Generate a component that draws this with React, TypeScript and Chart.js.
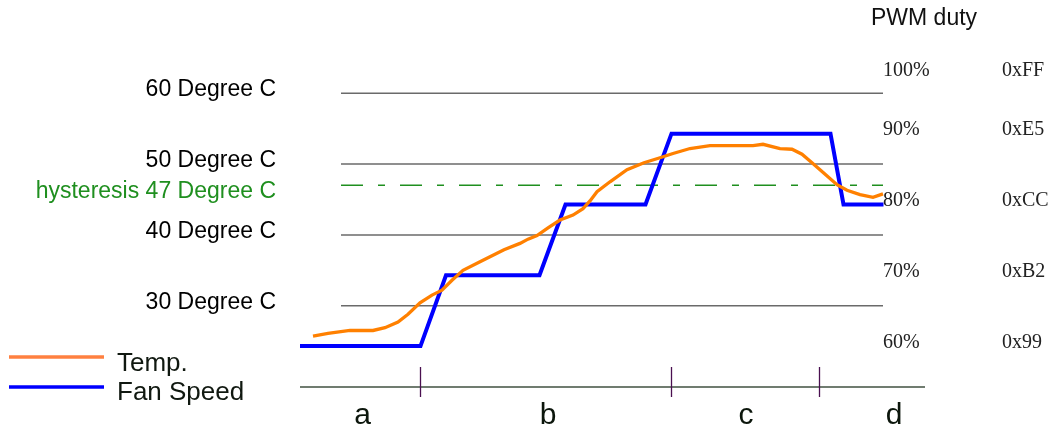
import React, { useEffect, useRef } from 'react';
import { Chart, registerables } from 'chart.js';

Chart.register(...registerables);

// ---- Data ----
const tempTime = [2.6, 5.6, 10, 14.6, 17, 19.6, 21.6, 24, 26.4, 28.4, 30.4, 32.6, 36, 38, 40.8, 44, 45.6, 47.4, 49.6, 52, 54.6, 56.6, 58, 59.4, 62, 65.4, 68.8, 72, 74.6, 78, 82, 88, 90.6, 92.6, 96, 98.4, 100.4, 102.4, 104.8, 107.4, 109.4, 112, 114.6, 116.6];
const tempValues = [25.7, 26.1, 26.5, 26.5, 26.9, 27.7, 28.8, 30.4, 31.5, 32.2, 33.6, 35.0, 36.2, 36.9, 37.9, 38.8, 39.4, 39.9, 41.0, 42.1, 42.8, 43.7, 44.8, 46.1, 47.5, 49.2, 50.2, 50.9, 51.5, 52.2, 52.6, 52.6, 52.6, 52.8, 52.2, 52.1, 51.4, 50.2, 48.7, 47.1, 46.3, 45.7, 45.3, 45.8];

const fanTime = [0, 24.1, 29.2, 47.9, 53.1, 69.1, 74.3, 106.1, 108.7, 116.7];
const fanDuty = [60, 60, 70, 70, 80, 80, 90, 90, 80, 80];

const tempGridLevels = [60, 50, 40, 30];
const tempGridLabels = ['60 Degree C', '50 Degree C', '40 Degree C', '30 Degree C'];
const hysteresisTemp = 47;
const hysteresisLabel = 'hysteresis 47 Degree C';
const gridSpan = [8.2, 116.6];

const pwmTitle = 'PWM duty';
const pwmLabelLevels = [98.3, 90, 80, 70, 60];
const pwmPercentLabels = ['100%', '90%', '80%', '70%', '60%'];
const pwmHexLabels = ['0xFF', '0xE5', '0xCC', '0xB2', '0x99'];

const phaseBoundaries = [24, 74.2, 103.8];
const phaseNames = ['a', 'b', 'c', 'd'];
const phaseLabelAt = [12.5, 49.6, 89.2, 118.8];

const legendNames = ['Temp.', 'Fan Speed'];

// ---- Styles ----
const ORANGE = '#ff8000';
const BLUE = '#0000ff';
const GRID = '#6a6a6a';
const GREEN = '#1f8f1f';
const SANS = '"Liberation Sans", Arial, sans-serif';
const SERIF = '"Liberation Serif", "Times New Roman", serif';

const overlayPlugin = {
  id: 'overlay',
  afterDraw(chart: any) {
    const ctx = chart.ctx as CanvasRenderingContext2D;
    const x = chart.scales.x;
    const y = chart.scales.y;
    const y2 = chart.scales.y2;
    ctx.save();

    // left temperature labels
    ctx.font = `23px ${SANS}`;
    ctx.textAlign = 'right';
    ctx.textBaseline = 'alphabetic';
    ctx.fillStyle = '#000';
    tempGridLevels.forEach((lv, i) => {
      ctx.fillText(tempGridLabels[i], 276, y.getPixelForValue(lv) + 3);
    });
    ctx.fillStyle = GREEN;
    ctx.fillText(hysteresisLabel, 276, y.getPixelForValue(hysteresisTemp) + 12.5);

    // right PWM labels
    ctx.textAlign = 'left';
    ctx.fillStyle = '#111';
    ctx.font = `23px ${SANS}`;
    ctx.fillText(pwmTitle, 871, 25);
    ctx.font = `20px ${SERIF}`;
    ctx.fillStyle = '#222';
    pwmLabelLevels.forEach((lv, i) => {
      const py = y2.getPixelForValue(lv) + 1.5;
      ctx.fillText(pwmPercentLabels[i], 883, py);
      ctx.fillText(pwmHexLabels[i], 1002, py);
    });

    // bottom phase axis
    const axisY = 387;
    ctx.strokeStyle = '#707c70';
    ctx.lineWidth = 2;
    ctx.beginPath();
    ctx.moveTo(x.getPixelForValue(x.min), axisY);
    ctx.lineTo(x.getPixelForValue(x.max), axisY);
    ctx.stroke();
    ctx.strokeStyle = '#4a1050';
    ctx.lineWidth = 1.3;
    phaseBoundaries.forEach((b) => {
      const px = Math.round(x.getPixelForValue(b)) + 0.5;
      ctx.beginPath();
      ctx.moveTo(px, axisY - 20);
      ctx.lineTo(px, axisY + 10);
      ctx.stroke();
    });
    ctx.font = `30px ${SANS}`;
    ctx.textAlign = 'center';
    ctx.fillStyle = '#0c160c';
    phaseNames.forEach((n, i) => {
      ctx.fillText(n, x.getPixelForValue(phaseLabelAt[i]), 424);
    });

    // legend
    const legendColors = ['#ff8040', BLUE];
    const legendY = [357, 387];
    legendNames.forEach((n, i) => {
      ctx.strokeStyle = legendColors[i];
      ctx.lineWidth = 3.5;
      ctx.beginPath();
      ctx.moveTo(9, legendY[i]);
      ctx.lineTo(104, legendY[i]);
      ctx.stroke();
    });
    ctx.font = `26px ${SANS}`;
    ctx.textAlign = 'left';
    ctx.fillStyle = '#101810';
    ctx.fillText(legendNames[0], 117, 371);
    ctx.fillText(legendNames[1], 117, 400);

    ctx.restore();
  },
};

export default function App() {
  const ref = useRef<HTMLCanvasElement | null>(null);

  useEffect(() => {
    document.body.style.margin = '0';
    const canvas = ref.current;
    if (!canvas) return;

    const gridDatasets = tempGridLevels.map((lv) => ({
      label: 'grid',
      data: gridSpan.map((t) => ({ x: t, y: lv })),
      borderColor: GRID,
      borderWidth: 1.5,
      pointRadius: 0,
      yAxisID: 'y',
      order: 5,
    }));

    const chart = new Chart(canvas, {
      type: 'line',
      data: {
        datasets: [
          ...gridDatasets,
          {
            label: 'hysteresis',
            data: gridSpan.map((t) => ({ x: t, y: hysteresisTemp })),
            borderColor: GREEN,
            borderWidth: 1.5,
            borderDash: [22, 15, 7, 15],
            pointRadius: 0,
            yAxisID: 'y',
            order: 4,
          },
          {
            label: 'Fan Speed',
            data: fanTime.map((t, i) => ({ x: t, y: fanDuty[i] })),
            borderColor: BLUE,
            borderWidth: 4,
            borderJoinStyle: 'miter',
            pointRadius: 0,
            tension: 0,
            yAxisID: 'y2',
            order: 2,
          },
          {
            label: 'Temp.',
            data: tempTime.map((t, i) => ({ x: t, y: tempValues[i] })),
            borderColor: ORANGE,
            borderWidth: 3.3,
            pointRadius: 0,
            tension: 0,
            yAxisID: 'y',
            order: 1,
          },
        ],
      },
      options: {
        responsive: false,
        animation: false,
        devicePixelRatio: 1,
        layout: { padding: { left: 300, right: 130, top: 22.5, bottom: 17.1 } },
        plugins: { legend: { display: false }, tooltip: { enabled: false } },
        scales: {
          x: { type: 'linear', min: 0, max: 125, display: false },
          y: { type: 'linear', min: 15, max: 70, display: false },
          y2: { type: 'linear', min: 50.7, max: 105.7, display: false },
        },
      },
      plugins: [overlayPlugin],
    } as any);

    return () => chart.destroy();
  }, []);

  return (
    <div style={{ position: 'relative', width: 1055, height: 429, background: '#fff' }}>
      <canvas ref={ref} width={1055} height={429} style={{ display: 'block' }} />
    </div>
  );
}
